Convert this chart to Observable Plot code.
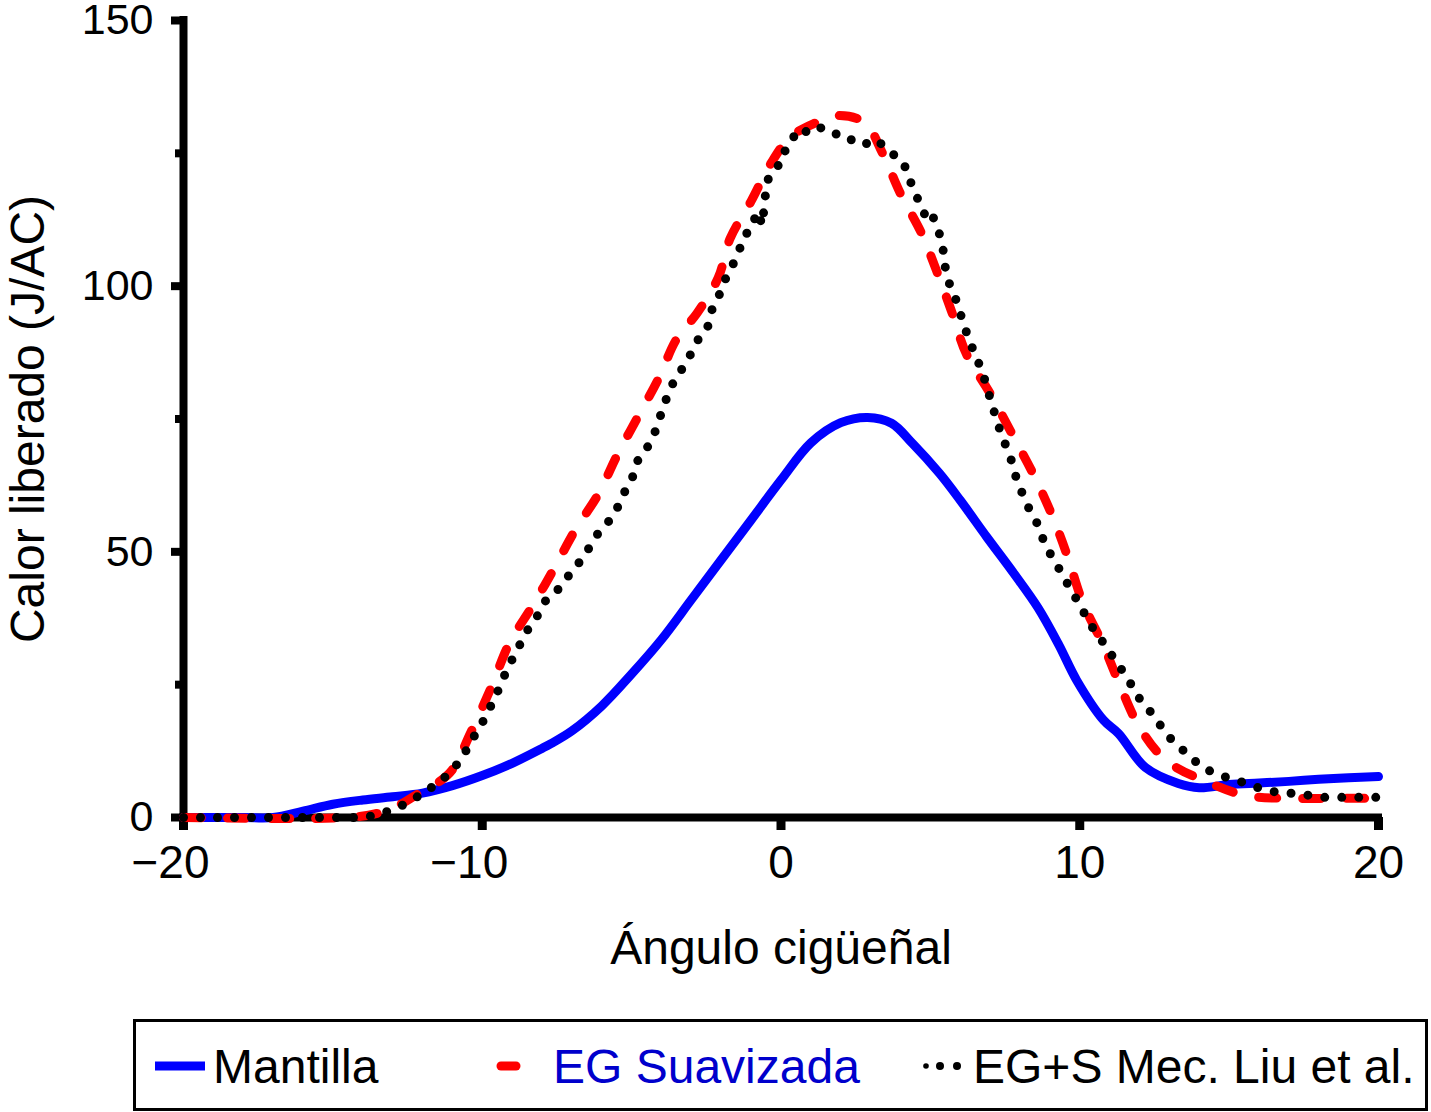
<!DOCTYPE html>
<html>
<head>
<meta charset="utf-8">
<script src="https://cdn.jsdelivr.net/npm/d3@7"></script>
<script src="https://cdn.jsdelivr.net/npm/@observablehq/plot@0.6"></script>
<style>
  body { margin: 0; background: #fff; font-family: "Liberation Sans", Arial, Helvetica, sans-serif; }
  #chart svg { display: block; }
  #legend { margin-left: 133px; margin-top: 14px; width: 1295px; height: 92px; }
  #legend svg { display: block; }
</style>
</head>
<body>
<div id="chart"></div>
<div id="legend"></div>
<script>
// ---- Data ----
const seriesNames = ["Mantilla", "EG Suavizada", "EG+S Mec. Liu et al."];

const mantillaAngle = [-20,-18,-17,-16,-15,-14,-13,-12,-11,-10,-9,-8,-7.7,-7,-6,-5,-4,-3,-2,-1,0,1,2,2.9,3.7,4.4,5.3,6,6.9,7.8,8.6,9.3,9.9,10.8,11.3,12.2,13.3,14,15,16,17,18,19,20];
const mantillaHeat  = [0,0,0,1.2,2.5,3.3,3.9,4.6,6,7.9,10.2,13,13.9,16.3,21,27,33.5,41,48.5,56,63.5,70.5,74.3,75.3,74.2,70.4,64.8,59.7,52.7,45.9,39.5,32.5,25.8,18.3,15.8,9.4,6.4,5.6,6.2,6.5,6.8,7.2,7.5,7.7];

const suavAngle = [-20,-14.5,-13.5,-12.7,-12,-11.5,-11,-10.4,-9.7,-9.1,-8.3,-7.6,-6.9,-6.1,-5.5,-4.8,-4.1,-3.5,-2.8,-2.1,-1.7,-1,-0.35,0.3,1.1,1.9,2.8,3.4,4,4.7,5.2,5.7,6.2,7,7.8,8.5,9.1,9.6,10.1,10.8,11.3,12,12.9,14.3,15.6,17.2,18.7,20];
const suavHeat  = [0,0,0.8,2.6,5,6.5,9,15.8,24.5,32.7,40,46.8,54,61,68,75.3,82.6,90,95,101.6,109,116,123,128,130.6,132.1,130.8,125,117.4,110,103,95.4,87.3,79.8,71.5,64,56.5,49,40.5,32.3,25.5,17,10.7,6.6,4.1,3.6,3.6,3.6];

const liuAngle = [-20,-15,-14,-13.5,-12.8,-12.2,-11.5,-11,-10.6,-10.3,-9.9,-9.5,-9.16,-8.79,-8.45,-8.15,-7.88,-7.55,-7.11,-6.78,-6.44,-6.11,-5.6,-5.24,-4.94,-4.77,-4.43,-4.2,-4.03,-3.8,-3.53,-3.3,-3.13,-2.93,-2.7,-2.46,-2.26,-2.02,-1.79,-1.59,-1.42,-1.25,-1.02,-0.8,-0.62,-0.55,-0.45,-0.25,0.08,0.15,0.32,0.55,0.9,1.1,1.42,1.72,1.89,2.23,2.56,2.76,3,3.33,3.66,3.9,4.1,4.27,4.43,4.57,4.74,4.9,5.1,5.24,5.4,5.5,5.6,5.91,6.1,6.28,6.5,6.73,7.1,7.35,7.68,7.9,8.25,8.58,8.85,9.25,9.62,10.05,10.36,10.8,11.2,11.6,11.97,12.47,12.94,13.47,14.1,14.7,15.27,15.97,16.63,17.3,18.1,18.9,19.6,20];
const liuHeat  = [0,0,0,0.5,1.9,3.8,6.4,8.8,12,15,18.8,23.5,28,32,35.6,38,40.8,42.3,45.5,47.8,50.6,53.6,56.8,61.2,64.4,67.6,70,72.8,75.7,79.4,82.8,84.5,86,88.3,90.7,92.2,96.7,98.8,102.4,104.3,106.3,109.5,110.5,114,111.5,116,119.9,121.8,123.7,125.9,126.9,129.5,129,130,129.7,129.3,128.4,127.4,127.8,127.4,126.1,126.9,125.2,124.2,123.3,120.5,118.4,116.5,114.6,112,112.9,111,108,103.5,101,96.7,93,90.2,87,84.1,77,72.5,67.8,63.4,58.7,55.3,51.2,47.4,43.7,39.5,36.3,32.8,29.5,26.2,22.6,19.2,15.4,12.6,9.4,7.9,7,5.6,4.7,4.5,3.8,3.8,3.8,3.8];

const xTicks = [-20, -10, 0, 10, 20];
const yTicks = [0, 50, 100, 150];
const yMinorTicks = [25, 75, 125];
const xTitle = "Ángulo cigüeñal";
const yTitle = "Calor liberado (J/AC)";

const toRows = (xs, ys) => xs.map((x, i) => ({x, y: ys[i]}));
const mantilla = toRows(mantillaAngle, mantillaHeat);
const suav = toRows(suavAngle, suavHeat);
const liu = toRows(liuAngle, liuHeat);

const fmt = d => d < 0 ? "\u2212" + Math.abs(d) : String(d);
const FONT = "'Liberation Sans', Arial, Helvetica, sans-serif";
const xLabelOpts = {tickSize: 13, tickPadding: 15, fontSize: 46, tickFormat: fmt, label: null, fill: "#000", strokeOpacity: 0};

const chart = Plot.plot({
  width: 1431,
  height: 1005,
  marginLeft: 183,
  marginRight: 53,
  marginTop: 20,
  marginBottom: 188,
  style: {fontFamily: FONT, background: "#fff", color: "#000", overflow: "visible"},
  x: {domain: [-20, 20]},
  y: {domain: [0, 150]},
  marks: [
    Plot.axisY(yMinorTicks, {tickSize: 8, strokeWidth: 8, tickFormat: () => "", label: null}),
    Plot.axisY(yTicks, {tickSize: 12, strokeWidth: 8, tickPadding: 18, fontSize: 43, label: null, fill: "#000"}),
    Plot.axisX(xTicks, {tickSize: 13, strokeWidth: 9, tickFormat: () => "", label: null}),
    // labels: digits centred on the tick, minus sign hanging to the left
    Plot.axisX(xTicks.filter(d => d < 0), {...xLabelOpts, dx: -13}),
    Plot.axisX(xTicks.filter(d => d >= 0), xLabelOpts),
    Plot.ruleX([-20], {y1: 0, y2: 150, strokeWidth: 8, stroke: "#000", strokeLinecap: "square"}),
    Plot.ruleY([0], {x1: -20, x2: 20, strokeWidth: 8, stroke: "#000", strokeLinecap: "square"}),
    Plot.line(mantilla, {x: "x", y: "y", curve: "catmull-rom", stroke: "#0000ff", strokeWidth: 9, strokeLinejoin: "round", strokeLinecap: "round"}),
    Plot.line(suav, {x: "x", y: "y", curve: "catmull-rom", stroke: "#ff0000", strokeWidth: 9, strokeDasharray: "18 26", strokeLinejoin: "round", strokeLinecap: "round"}),
    Plot.line(liu, {x: "x", y: "y", stroke: "#000", strokeWidth: 9, strokeDasharray: "0 17", strokeLinejoin: "round", strokeLinecap: "round"}),
    Plot.text([yTitle], {text: d => d, frameAnchor: "left", textAnchor: "middle", lineAnchor: "middle", dx: -155, rotate: -90, fontSize: 48, fill: "#000"}),
    Plot.text([xTitle], {text: d => d, frameAnchor: "bottom", textAnchor: "middle", lineAnchor: "middle", dy: 131, fontSize: 48, fill: "#000"})
  ]
});
document.getElementById("chart").appendChild(chart);

// ---- Legend (below the SVG) ----
const L = d3.select("#legend").append("svg").attr("width", 1295).attr("height", 92)
  .style("font-family", FONT);
L.append("rect").attr("x", 1.5).attr("y", 1.5).attr("width", 1292).attr("height", 89)
  .attr("fill", "#fff").attr("stroke", "#000").attr("stroke-width", 3);
const ly = 47, lbase = 64, lfs = 48;
// Mantilla
L.append("line").attr("x1", 22).attr("x2", 72).attr("y1", ly).attr("y2", ly)
  .attr("stroke", "#0000ff").attr("stroke-width", 9);
L.append("text").attr("x", 80).attr("y", lbase).attr("font-size", lfs).attr("fill", "#000").text(seriesNames[0]);
// EG Suavizada
L.append("line").attr("x1", 368).attr("x2", 405).attr("y1", ly).attr("y2", ly)
  .attr("stroke", "#ff0000").attr("stroke-width", 9).attr("stroke-linecap", "round")
  .attr("stroke-dasharray", "15 22");
L.append("text").attr("x", 420).attr("y", lbase).attr("font-size", lfs).attr("fill", "#0000cc").text(seriesNames[1]);
// Liu
[[793, 2.8], [807, 4], [824, 4]].forEach(([cx, r]) =>
  L.append("circle").attr("cx", cx).attr("cy", ly).attr("r", r).attr("fill", "#000"));
L.append("text").attr("x", 840).attr("y", lbase).attr("font-size", lfs).attr("fill", "#000").text(seriesNames[2]);
</script>
</body>
</html>
